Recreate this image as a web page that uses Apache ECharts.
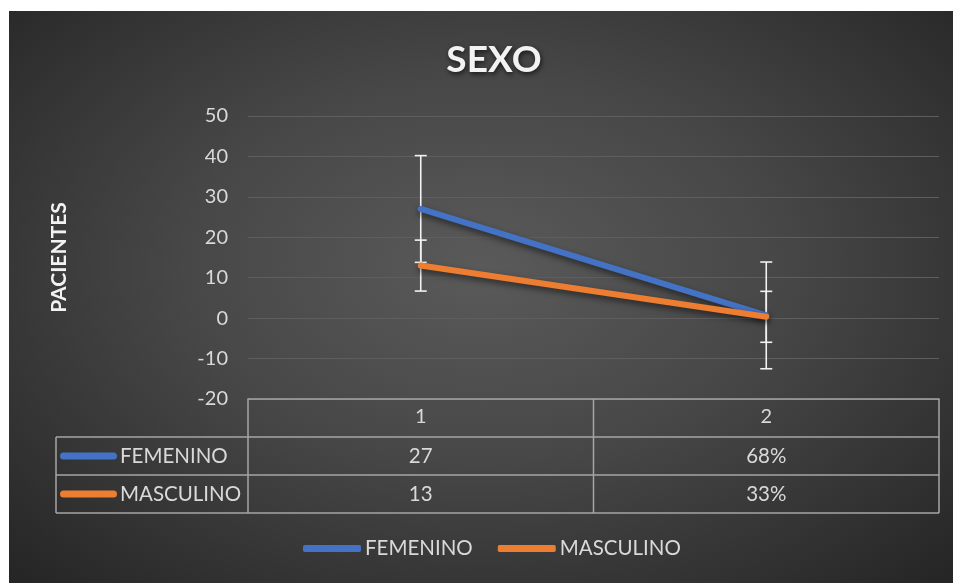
<!DOCTYPE html>
<html>
<head>
<meta charset="utf-8">
<script src="https://cdn.jsdelivr.net/npm/echarts@6/dist/echarts.min.js"></script>
<style>
  html, body { margin: 0; padding: 0; background: #fff; }
  #bg {
    position: absolute; left: 9px; top: 11px; width: 944px; height: 572px;
    background: radial-gradient(ellipse 70% 75% at 50% 45%, #5a5a5a 0%, #474747 45%, #262626 100%);
  }
  #main { position: absolute; left: 0; top: 0; width: 956px; height: 583px; }
</style>
</head>
<body>
<div id="bg"></div>
<div id="main"></div>
<script>
const categories = ['1', '2'];
const femenino = [27, 0.68];
const masculino = [13, 0.33];
const femeninoErr = [13.2, 13.2];
const masculinoErr = [6.3, 6.3];
const tablaFemenino = ['27', '68%'];
const tablaMasculino = ['13', '33%'];
const yTicks = { min: -20, max: 50, interval: 10 };

const AZUL = '#4472C4';
const NARANJA = '#ED7D31';
const FONT = 'Lato';

// barras de error: [categoria, bajo, alto]
function errData(vals, errs) {
    return vals.map((v, i) => [i, v - errs[i], v + errs[i]]);
}

function renderErr(params, api) {
    const lo = api.coord([api.value(0), api.value(1)]);
    const hi = api.coord([api.value(0), api.value(2)]);
    const w = 6;
    const style = { stroke: '#f2f2f2', lineWidth: 1.6 };
    return {
        type: 'group',
        children: [
            { type: 'line', shape: { x1: lo[0], y1: lo[1], x2: hi[0], y2: hi[1] }, style },
            { type: 'line', shape: { x1: lo[0] - w, y1: lo[1], x2: lo[0] + w, y2: lo[1] }, style },
            { type: 'line', shape: { x1: hi[0] - w, y1: hi[1], x2: hi[0] + w, y2: hi[1] }, style }
        ]
    };
}

const lineShadow = {
    shadowColor: 'rgba(0,0,0,0.55)',
    shadowBlur: 6,
    shadowOffsetY: 3
};

const chart = echarts.init(document.getElementById('main'), null, { renderer: 'canvas' });

const option = {
    backgroundColor: 'transparent',
    animation: false,
    title: {
        text: 'SEXO',
        left: 489,
        top: 37,
        textAlign: 'center',
        textStyle: {
            color: '#f2f2f2',
            fontFamily: FONT,
            fontWeight: 'bold',
            fontSize: 37,
            letterSpacing: 4,
            textShadowColor: 'rgba(0,0,0,0.7)',
            textShadowBlur: 5,
            textShadowOffsetX: 1,
            textShadowOffsetY: 2
        }
    },
    legend: {
        bottom: 19,
        left: 298,
        itemWidth: 58,
        itemHeight: 7,
        itemGap: 25,
        icon: 'roundRect',
        textStyle: { color: '#d9d9d9', fontFamily: FONT, fontSize: 20.5, padding: [0, 0, 0, -1] },
        data: ['FEMENINO', 'MASCULINO']
    },
    grid: { left: 248, right: 17, top: 116, bottom: 184 },
    xAxis: {
        type: 'category',
        data: categories,
        boundaryGap: true,
        axisLine: { onZero: false, lineStyle: { color: '#a6a6a6', width: 1.5 } },
        axisTick: { show: false },
        axisLabel: { color: '#d9d9d9', fontFamily: FONT, fontSize: 20, margin: 8 }
    },
    yAxis: {
        type: 'value',
        min: yTicks.min,
        max: yTicks.max,
        interval: yTicks.interval,
        name: 'PACIENTES',
        nameLocation: 'middle',
        nameGap: 178,
        nameRotate: 90,
        nameTextStyle: { color: '#f2f2f2', fontFamily: FONT, fontWeight: 'bold', fontSize: 21 },
        axisLine: { show: false },
        axisTick: { show: false },
        axisLabel: { color: '#d9d9d9', fontFamily: FONT, fontSize: 20, margin: 20 },
        splitLine: { lineStyle: { color: '#5e5e5e', width: 1 } }
    },
    series: [
        {
            type: 'custom',
            name: 'errFem',
            renderItem: renderErr,
            data: errData(femenino, femeninoErr),
            z: 1,
            silent: true
        },
        {
            type: 'custom',
            name: 'errMasc',
            renderItem: renderErr,
            data: errData(masculino, masculinoErr),
            z: 1,
            silent: true
        },
        {
            name: 'FEMENINO',
            type: 'line',
            data: femenino,
            showSymbol: false,
            symbol: 'none',
            color: AZUL,
            lineStyle: Object.assign({ color: AZUL, width: 6, cap: 'round' }, lineShadow),
            z: 3
        },
        {
            name: 'MASCULINO',
            type: 'line',
            data: masculino,
            showSymbol: false,
            symbol: 'none',
            color: NARANJA,
            lineStyle: Object.assign({ color: NARANJA, width: 6, cap: 'round' }, lineShadow),
            z: 4
        }
    ]
};

chart.setOption(option);

// tabla de datos bajo el eje
function drawTable() {
    const c0 = chart.convertToPixel({ xAxisIndex: 0 }, 0);
    const c1 = chart.convertToPixel({ xAxisIndex: 0 }, 1);
    const band = c1 - c0;
    const cols = [c0 - band / 2, c0 + band / 2, c1 + band / 2];
    const top = chart.convertToPixel({ yAxisIndex: 0 }, yTicks.min);
    const rowH = 38;
    const legLeft = 56;
    const lc = '#a6a6a6';
    const g = [];
    const line = (x1, y1, x2, y2) => g.push({
        type: 'line', silent: true,
        shape: { x1, y1, x2, y2 },
        style: { stroke: lc, lineWidth: 1.5 }
    });
    const txt = (x, y, text, align) => g.push({
        type: 'text', silent: true, x, y,
        style: { text, fill: '#d9d9d9', font: '20.5px ' + FONT, align: align || 'center', verticalAlign: 'middle' }
    });
    // verticales
    cols.forEach(x => line(x, top, x, top + rowH * 3));
    line(legLeft, top + rowH, legLeft, top + rowH * 3);
    // horizontales
    for (let r = 1; r <= 3; r++) line(legLeft, top + rowH * r, cols[2], top + rowH * r);

    const rows = [
        { name: 'FEMENINO', color: AZUL, vals: tablaFemenino },
        { name: 'MASCULINO', color: NARANJA, vals: tablaMasculino }
    ];
    rows.forEach((row, r) => {
        const cy = top + rowH * (r + 1) + rowH / 2;
        g.push({
            type: 'rect', silent: true,
            shape: { x: 60, y: cy - 3.5, width: 57, height: 7, r: 3.5 },
            style: { fill: row.color }
        });
        txt(120, cy, row.name, 'left');
        row.vals.forEach((v, i) => txt((cols[i] + cols[i + 1]) / 2, cy, v));
    });
    chart.setOption({ graphic: [{ type: 'group', children: g }] });
}
drawTable();
</script>
</body>
</html>
